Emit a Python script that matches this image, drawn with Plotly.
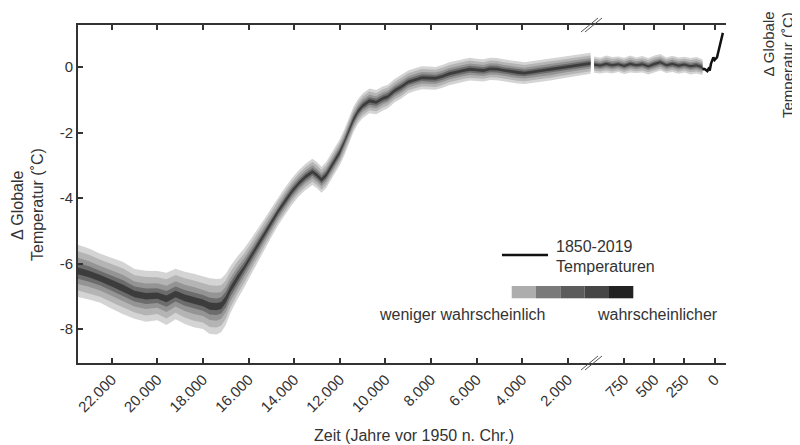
import plotly.graph_objects as go

# ---------------- data ----------------
left_years = [23500, 23000, 22500, 22000, 21500, 21000, 20500, 20000,
              19600, 19200, 18800, 18400, 18000,
              17700, 17400, 17200, 17000, 16800,
              16500, 16200, 15900, 15600, 15300, 15000,
              14700, 14400, 14100, 13800, 13500, 13200,
              13000, 12800, 12600, 12300, 12000,
              11800, 11600, 11400, 11200, 11000,
              10700, 10400, 10100, 9900, 9600, 9300, 9000,
              8700, 8400, 8100, 7800, 7500, 7200,
              6900, 6600, 6300, 6000, 5700, 5400, 5100,
              4800, 4500, 4200, 3900, 3600, 3300, 3000,
              2700, 2400, 2100, 1800, 1500, 1200, 1000]
left_median = [-6.22, -6.32, -6.45, -6.6, -6.75, -6.93, -7.0, -6.98,
               -7.08, -6.93, -7.05, -7.13, -7.2,
               -7.3, -7.32, -7.28, -7.1, -6.8,
               -6.45, -6.15, -5.8, -5.45, -5.1, -4.75,
               -4.4, -4.1, -3.8, -3.55, -3.35, -3.2,
               -3.3, -3.44, -3.3, -2.95, -2.6,
               -2.3, -1.95, -1.6, -1.35, -1.18,
               -1.03, -1.07, -0.95, -0.9, -0.72, -0.6, -0.45,
               -0.38, -0.32, -0.33, -0.34, -0.28, -0.2,
               -0.15, -0.1, -0.06, -0.08, -0.1, -0.05, -0.06,
               -0.1, -0.12, -0.16, -0.18, -0.15, -0.12, -0.1,
               -0.07, -0.03, 0.0, 0.03, 0.06, 0.1, 0.12]
left_spread = [0.8, 0.78, 0.75, 0.78, 0.8, 0.76, 0.78, 0.75,
               0.8, 0.77, 0.8, 0.82, 0.8,
               0.85, 0.85, 0.82, 0.78, 0.72,
               0.66, 0.6, 0.55, 0.5, 0.47, 0.45,
               0.43, 0.42, 0.41, 0.4, 0.4, 0.4,
               0.4, 0.4, 0.4, 0.4, 0.4,
               0.4, 0.4, 0.39, 0.38, 0.38,
               0.38, 0.37, 0.37, 0.36, 0.36, 0.36, 0.35,
               0.35, 0.35, 0.35, 0.35, 0.35, 0.35,
               0.35, 0.35, 0.35, 0.34, 0.34, 0.34, 0.34,
               0.34, 0.34, 0.34, 0.33, 0.33, 0.33, 0.33,
               0.33, 0.33, 0.32, 0.32, 0.32, 0.32, 0.32]

right_years = [1000, 950, 900, 850, 800, 750, 700, 650, 600, 550,
               500, 450, 400, 350, 300, 250, 200, 150, 100]
right_median = [0.08, 0.05, 0.1, 0.06, 0.09, 0.04, 0.1, 0.06, 0.09, 0.03,
                0.1, 0.15, 0.06, 0.1, 0.05, 0.08, 0.03, 0.06, 0.0]
right_spread = [0.25, 0.24, 0.26, 0.25, 0.24, 0.25, 0.26, 0.24, 0.25, 0.25,
                0.26, 0.25, 0.24, 0.25, 0.25, 0.24, 0.25, 0.25, 0.24]

inst_years_ce = [1850, 1860, 1870, 1880, 1890, 1900, 1910, 1920, 1930,
                 1940, 1950, 1960, 1970, 1980, 1990, 2000, 2010, 2019]
inst_temp = [-0.08, -0.05, -0.06, -0.1, -0.12, -0.05, -0.1, 0.1, 0.22,
             0.3, 0.22, 0.26, 0.3, 0.45, 0.6, 0.75, 0.9, 1.05]

band_fractions = [1.0, 0.75, 0.5, 0.3, 0.13]
band_colors = ["#d4d4d4", "#b4b4b4", "#949494", "#6c6c6c", "#3c3c3c"]
legend_colors = ["#adadad", "#7a7a7a", "#5c5c5c", "#464646", "#222222"]

left_ticks = [22000, 20000, 18000, 16000, 14000, 12000, 10000, 8000, 6000, 4000, 2000]
left_ticktext = ["22.000", "20.000", "18.000", "16.000", "14.000", "12.000",
                 "10.000", "8.000", "6.000", "4.000", "2.000"]
right_ticks = [750, 500, 250, 0]
right_ticktext = ["750", "500", "250", "0"]
y_ticks = [0, -2, -4, -6, -8]
y_ticktext = ["0", "-2", "-4", "-6", "-8"]
y2_ticks = [1, 0, -1]
y2_ticktext = ["1", "0", "-1"]

# ---------------- layout geometry (page pixels) ----------------
WIN_W, WIN_H = 800, 445
OFF = 8                      # default page body margin
FW, FH = WIN_W - OFF, WIN_H - OFF
L, R, T, B = 78, 726, 25, 363
BREAK_PX = 591.7
FONT = "Liberation Sans, Arial, sans-serif"
TXT = "#333333"
AX = "#333333"


def px(x):
    return (x - L) / (R - L)


def py(y):
    return (B - y) / (B - T)


split = px(BREAK_PX)

fig = go.Figure()


def add_bands(years, med, spr, xa):
    for f, c in zip(band_fractions, band_colors):
        up = [m + f * s for m, s in zip(med, spr)]
        lo = [m - f * s for m, s in zip(med, spr)]
        fig.add_trace(go.Scatter(
            x=list(years) + list(years)[::-1],
            y=up + lo[::-1],
            fill="toself", fillcolor=c, mode="lines",
            line=dict(width=0, color=c), hoverinfo="skip",
            showlegend=False, xaxis=xa, yaxis="y"))


add_bands(left_years, left_median, left_spread, "x")
add_bands(right_years, right_median, right_spread, "x2")

fig.add_trace(go.Scatter(
    x=[1950 - y for y in inst_years_ce], y=inst_temp,
    mode="lines", line=dict(color="#111111", width=2.5),
    showlegend=False, xaxis="x2", yaxis="y"))

axis_common = dict(showgrid=False, zeroline=False, showline=True,
                   linecolor=AX, linewidth=2, ticks="inside", ticklen=5,
                   tickwidth=1.5, tickcolor=AX, automargin=False,
                   tickfont=dict(family=FONT, size=15, color=TXT))

YR = [-9.04, 1.29]

fig.update_layout(
    width=FW, height=FH,
    margin=dict(l=L - OFF, r=WIN_W - R, t=T - OFF, b=WIN_H - B, pad=0),
    paper_bgcolor="white", plot_bgcolor="white",
    showlegend=False,
    xaxis=dict(domain=[0, split], range=[23480, 950], anchor="y",
               tickvals=left_ticks, ticktext=left_ticktext, tickangle=-45,
               mirror="ticks", **axis_common),
    xaxis2=dict(domain=[split, 1], range=[1020, -95], anchor="y",
                tickvals=right_ticks, ticktext=right_ticktext, tickangle=-45,
                mirror="ticks", **axis_common),
    yaxis=dict(range=YR, anchor="x", tickvals=y_ticks, ticktext=y_ticktext,
               **axis_common),
    yaxis2=dict(range=YR, overlaying="y", side="right", anchor="x2",
                tickvals=y2_ticks, ticktext=y2_ticktext, **axis_common),
)

shapes = []
# axis break marks
for ybase in (B, T):
    for dx in (0, 4):
        shapes.append(dict(type="line", xref="paper", yref="paper",
                           x0=px(581 + dx), y0=py(ybase + 7),
                           x1=px(598 + dx), y1=py(ybase - 7),
                           line=dict(color="#555555", width=1)))
# legend: line sample
shapes.append(dict(type="line", xref="paper", yref="paper",
                   x0=px(502), y0=py(255), x1=px(548), y1=py(255),
                   line=dict(color="#111111", width=2.5)))
# legend: shade boxes
bw = (633.3 - 511.7) / len(legend_colors)
for i, c in enumerate(legend_colors):
    shapes.append(dict(type="rect", xref="paper", yref="paper",
                       x0=px(511.7 + i * bw), x1=px(511.7 + (i + 1) * bw),
                       y0=py(298.3), y1=py(286),
                       fillcolor=c, line=dict(width=0)))
fig.update_layout(shapes=shapes)

ann = []


def text(x, y, s, size=16, angle=0, xanchor="center", yanchor="middle"):
    ann.append(dict(x=px(x), y=py(y), xref="paper", yref="paper", text=s,
                    showarrow=False, textangle=angle, xanchor=xanchor,
                    yanchor=yanchor,
                    font=dict(family=FONT, size=size, color=TXT)))


text(414, 435, "Zeit (Jahre vor 1950 n. Chr.)")
text(17, 205, "Δ Globale", angle=-90)
text(37, 205, "Temperatur (˚C)", angle=-90)
# right-hand axis title: both lines end at the top edge
text(768, 10, "Δ Globale", size=15, angle=-90, yanchor="top")
text(787, 10, "Temperatur (˚C)", size=15, angle=-90, yanchor="top")
text(554, 246, "1850-2019", xanchor="left")
text(554, 266, "Temperaturen", xanchor="left")
text(462, 314, "weniger wahrscheinlich")
text(657, 314, "wahrscheinlicher")
fig.update_layout(annotations=ann)

fig.write_html("out.html")
